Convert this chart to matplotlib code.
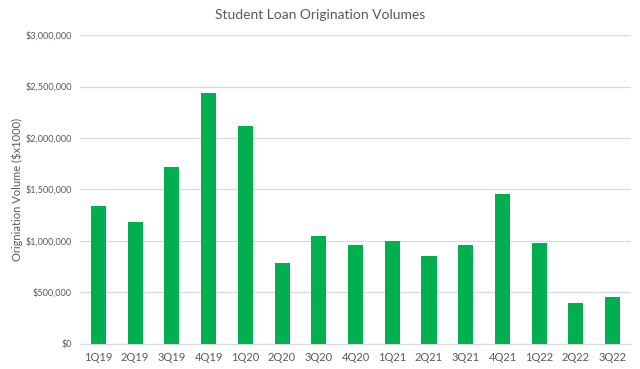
import matplotlib.pyplot as plt
from matplotlib.ticker import FuncFormatter

quarters = ['1Q19', '2Q19', '3Q19', '4Q19', '1Q20', '2Q20', '3Q20', '4Q20',
            '1Q21', '2Q21', '3Q21', '4Q21', '1Q22', '2Q22', '3Q22']
volumes = [1340000, 1181000, 1718000, 2440000, 2113000, 783000, 1052000, 964000,
           1000000, 857000, 964000, 1459000, 981000, 395000, 453000]
yticks = [0, 500000, 1000000, 1500000, 2000000, 2500000, 3000000]

plt.rcParams['font.family'] = ['Lato', 'DejaVu Sans']
textColor = '#595959'

fig = plt.figure(figsize=(6.4, 3.69), dpi=100)
ax = fig.add_axes([0.125, 0.068, 0.861, 0.837])

x = range(len(quarters))
ax.bar(x, volumes, width=0.41, color='#00B050', zorder=3)

ax.set_xlim(-0.5, len(quarters) - 0.5)
ax.set_ylim(0, 3000000)
ax.set_yticks(yticks)
ax.yaxis.set_major_formatter(FuncFormatter(lambda v, p: '${:,.0f}'.format(v)))
ax.set_xticks(list(x))
ax.set_xticklabels(quarters)
ax.grid(axis='y', color='#D9D9D9', linewidth=0.9, zorder=0)
ax.tick_params(axis='both', length=0, colors=textColor)
ax.tick_params(axis='x', pad=6, labelsize=8)
ax.tick_params(axis='y', pad=6, labelsize=6.6)
for side in ['top', 'right', 'left']:
    ax.spines[side].set_visible(False)
ax.spines['bottom'].set_color('#D9D9D9')

ax.set_ylabel('Origniation Volume ($x1000)', fontsize=8, color=textColor)
ax.yaxis.set_label_coords(-0.103, 0.5)
fig.suptitle('Student Loan Origination Volumes', x=0.5, y=0.975, fontsize=10,
             color=textColor)

fig.savefig('out.png', dpi=100)
